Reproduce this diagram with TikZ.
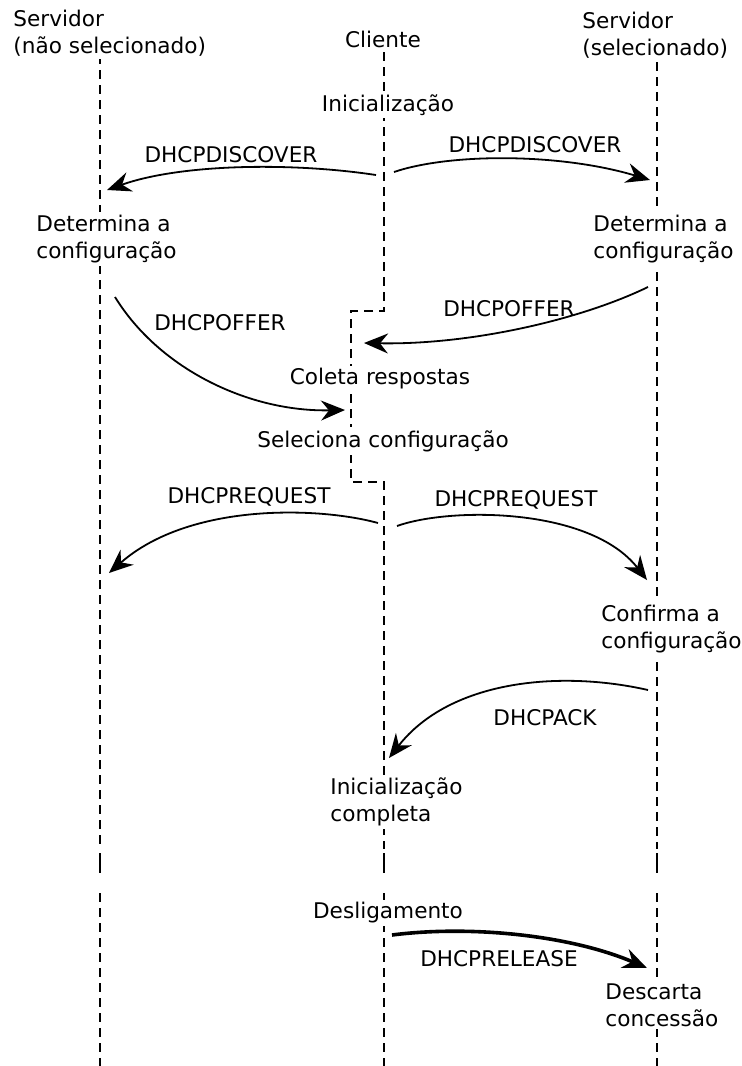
\documentclass[tikz,border=0pt]{standalone}
\usepackage{fontspec}
\setmainfont{DejaVu Sans}
\usetikzlibrary{arrows.meta}
\begin{document}
\begin{tikzpicture}[x=0.5pt,y=-0.5pt,
  life/.style={line width=1.1pt, dash pattern=on 4.5pt off 3pt},
  lifesolid/.style={line width=1.1pt},
  msg/.style={line width=0.9pt, -{Stealth[length=12pt,width=10pt,inset=4pt]}},
  msgthick/.style={line width=1.8pt, -{Stealth[length=12pt,width=10pt,inset=4pt]}},
  txt/.style={font=\fontsize{10.8}{13.4}\selectfont, fill=white, inner sep=1.5pt, align=left},
  lbl/.style={font=\fontsize{10.8}{13.4}\selectfont, inner sep=1pt}]
\useasboundingbox (0,0) rectangle (742,1066);
% lifelines
\draw[life] (100,55) -- (100,849);
\draw[lifesolid] (100,853) -- (100,873);
\draw[life] (100,893) -- (100,1066);
\draw[life] (384,52) -- (384,311) -- (351,311) -- (351,482) -- (384,482) -- (384,849);
\draw[lifesolid] (384,853) -- (384,873);
\draw[life] (384,893) -- (384,1066);
\draw[life] (657,62) -- (657,849);
\draw[lifesolid] (657,853) -- (657,873);
\draw[life] (657,893) -- (657,1066);
% text nodes
\node[txt, anchor=west] (hl) at (10,33) {Servidor\\(não selecionado)};
\node[txt] (hc) at (383,39) {Cliente};
\node[txt, anchor=west] (hr) at (579,35) {Servidor\\(selecionado)};
\node[txt] (ini) at (388,105) {Inicialização};
\node[txt, anchor=west] (detl) at (33,239) {Determina a\\configuração};
\node[txt, anchor=west] (detr) at (590,239) {Determina a\\configuração};
\node[txt] (col) at (380,379) {Coleta respostas};
\node[txt] (sel) at (383,441) {Seleciona configuração};
\node[txt, anchor=west] (conf) at (598,629) {Confirma a\\configuração};
\node[txt, anchor=west] (comp) at (327,802) {Inicialização\\completa};
\node[txt] (desl) at (388,913) {Desligamento};
\node[txt, anchor=west] (desc) at (602,1005) {Descarta\\concessão};
% message labels
\node[lbl] (ldl) at (231,155) {DHCPDISCOVER};
\node[lbl] (ldr) at (535,145) {DHCPDISCOVER};
\node[lbl] (lol) at (220,323) {DHCPOFFER};
\node[lbl] (lor) at (509,309) {DHCPOFFER};
\node[lbl] (lrl) at (249,497) {DHCPREQUEST};
\node[lbl] (lrr) at (516,500) {DHCPREQUEST};
\node[lbl] (lack) at (545,718) {DHCPACK};
\node[lbl] (lrel) at (499,959) {DHCPRELEASE};
% arrow end points
\coordinate (d1s) at (376,175); \coordinate (d1e) at (107,190);
\coordinate (d2s) at (394,172); \coordinate (d2e) at (650,180);
\coordinate (o1s) at (115,297); \coordinate (o1e) at (345,410);
\coordinate (o2s) at (648,287); \coordinate (o2e) at (364,343);
\coordinate (r1s) at (378,523); \coordinate (r1e) at (109,573);
\coordinate (r2s) at (397,526); \coordinate (r2e) at (647,580);
\coordinate (as) at (648,690); \coordinate (ae) at (389,758);
\coordinate (rls) at (392,935); \coordinate (rle) at (647,968);
% arrows
\draw[msg] (d1s) .. controls (290,162) and (180,164) .. (d1e);
\draw[msg] (d2s) .. controls (450,153) and (560,153) .. (d2e);
\draw[msg] (o1s) .. controls (160,370) and (250,412) .. (o1e);
\draw[msg] (o2s) .. controls (580,320) and (470,345) .. (o2e);
\draw[msg] (r1s) .. controls (320,507) and (190,502) .. (r1e);
\draw[msg] (r2s) .. controls (450,507) and (590,507) .. (r2e);
\draw[msg] (as) .. controls (560,670) and (450,680) .. (ae);
\draw[msgthick] (rls) .. controls (470,925) and (570,935) .. (rle);
\end{tikzpicture}
\end{document}
